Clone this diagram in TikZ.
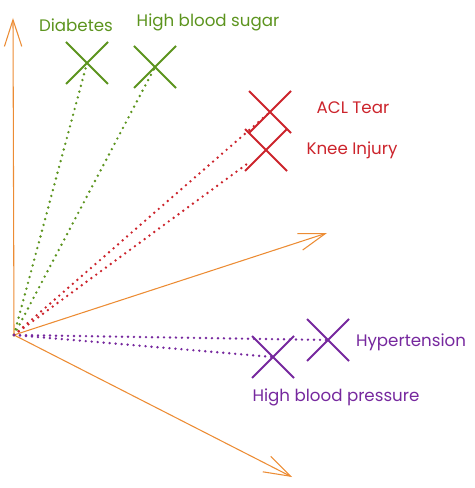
\documentclass[tikz,border=0pt]{standalone}
\usepackage{fontspec}
\setmainfont{Poppins}
\usepackage{tikz}
\usetikzlibrary{arrows.meta, shapes.misc}
\definecolor{vecorange}{RGB}{236,140,52}
\definecolor{symgreen}{RGB}{92,148,30}
\definecolor{symred}{RGB}{204,36,44}
\definecolor{sympurple}{RGB}{118,40,158}
\tikzset{
  vec/.style={draw=vecorange, line width=0.8pt,
              -{Straight Barb[length=20pt, width=13pt, line width=0.8pt]}},
  xmark/.style={cross out, draw=#1, line width=1.5pt, minimum size=30pt,
                inner sep=0pt},
  link/.style={draw=#1, line width=2pt, line cap=round,
               dash pattern=on 0pt off 4.5pt},
  lbl/.style={text=#1, font=\fontsize{12.5}{15}\selectfont, inner sep=1pt},
}

\begin{document}
\begin{tikzpicture}[x=0.75pt, y=-0.75pt]
  \useasboundingbox (0,0) rectangle (474,488);

  % ─── axes / vectors ─────────────────────────────────────────
  \coordinate (O) at (14,335);
  \coordinate (up) at (13,18);
  \coordinate (right) at (327,233);
  \coordinate (down) at (292,477);
  \draw[vec] (O) -- (up);
  \draw[vec] (O) -- (right);
  \draw[vec] (O) -- (down);

  % ─── green pair ─────────────────────────────────────────────
  \node[xmark=symgreen] (diab) at (87,63) {};
  \node[xmark=symgreen] (sugar) at (155,67) {};
  \node[lbl=symgreen] (diabL) at (76,25) {Diabetes};
  \node[lbl=symgreen] (sugarL) at (208,22) {High blood sugar};
  \draw[link=symgreen] (O) -- (diab.center);
  \draw[link=symgreen] (O) -- (sugar.center);

  % ─── red pair ───────────────────────────────────────────────
  \node[xmark=symred] (acl) at (270,112) {};
  \node[xmark=symred] (knee) at (266,150) {};
  \node[lbl=symred] (aclL) at (353,108) {ACL Tear};
  \node[lbl=symred] (kneeL) at (352,150) {Knee Injury};
  \draw[link=symred] (O) -- (acl.center);
  \draw[link=symred, shorten >=14pt] (O) -- (knee.center);

  % ─── purple pair ────────────────────────────────────────────
  \node[xmark=sympurple] (hyper) at (328,340) {};
  \node[xmark=sympurple] (pressure) at (273,357) {};
  \node[lbl=sympurple] (hyperL) at (411,342) {Hypertension};
  \node[lbl=sympurple] (pressureL) at (336,397) {High blood pressure};
  \draw[link=sympurple] (O) -- (hyper.center);
  \draw[link=sympurple] (O) -- (pressure.center);

\end{tikzpicture}
\end{document}
